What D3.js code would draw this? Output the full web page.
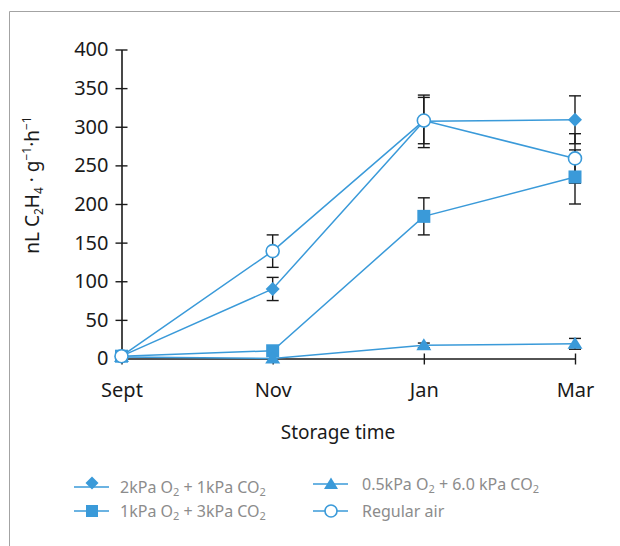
<!DOCTYPE html>
<html>
<head>
<meta charset="utf-8">
<script src="https://cdn.jsdelivr.net/npm/d3@7"></script>
<style>
  html, body { margin: 0; padding: 0; background: #fff; }
  svg { display: block; font-family: "Noto Sans", "Open Sans", sans-serif; }
</style>
</head>
<body>
<svg id="chart" width="620" height="546"></svg>
<script>
// Ethylene production during storage under four atmospheres
const months = ["Sept", "Nov", "Jan", "Mar"];
const yTicks = [0, 50, 100, 150, 200, 250, 300, 350, 400];

const lowO2Values   = [3, 90, 307, 309];   // 2kPa O2 + 1kPa CO2
const lowO2Err      = [0, 15, 34, 31];
const midValues     = [3, 10, 184, 235];   // 1kPa O2 + 3kPa CO2
const midErr        = [0, 0, 24, 35];
const ulo2Values    = [2, 0, 17, 19];      // 0.5kPa O2 + 6.0 kPa CO2
const ulo2Err       = [0, 0, 3, 7];
const airValues     = [3, 139, 308, 259];  // Regular air
const airErr        = [0, 21, 30, 32];

const blue = "#3a9ad9";
const svg = d3.select("#chart");

// outer frame (top and left edges only)
svg.append("path").attr("d", "M9.5,546 V11.5 H620")
  .attr("fill", "none").attr("stroke", "#a3a3a3").attr("stroke-width", 1);

const x = d3.scalePoint().domain(months).range([121.5, 575]);
const y = d3.scaleLinear().domain([0, 400]).range([358.5, 49.5]);

// symbol shapes
const shapes = {
  diamond: (g) => g.append("path").attr("d", "M0,-7 L7,0 L0,7 L-7,0 Z").attr("fill", blue),
  square: (g) => g.append("rect").attr("x", -6.5).attr("y", -6.5).attr("width", 13).attr("height", 13).attr("fill", blue),
  triangle: (g) => g.append("path").attr("d", "M0,-7 L7.5,5 L-7.5,5 Z").attr("fill", blue),
  circle: (g) => g.append("circle").attr("r", 6.5).attr("fill", "#fff").attr("stroke", blue).attr("stroke-width", 1.6)
};

const series = [
  { name: "lowO2", values: lowO2Values, err: lowO2Err, shape: "diamond" },
  { name: "mid", values: midValues, err: midErr, shape: "square" },
  { name: "ulo2", values: ulo2Values, err: ulo2Err, shape: "triangle" },
  { name: "air", values: airValues, err: airErr, shape: "circle" }
];

// axes
const yAxis = svg.append("g").attr("transform", "translate(121.5,0)")
  .call(d3.axisLeft(y).tickValues(yTicks).tickSizeInner(6).tickSizeOuter(0).tickPadding(7));
yAxis.selectAll(".tick line").attr("x1", -6).attr("x2", 6);
const xAxis = svg.append("g").attr("transform", "translate(0,358.5)")
  .call(d3.axisBottom(x).tickSizeInner(6).tickSizeOuter(0).tickPadding(18));
xAxis.selectAll(".tick line").attr("y1", -5).attr("y2", 6);
[yAxis, xAxis].forEach(a => {
  a.select(".domain").attr("stroke", "#1a1a1a").attr("stroke-width", 1.6);
  a.selectAll(".tick line").attr("stroke", "#1a1a1a").attr("stroke-width", 1.4);
  a.selectAll(".tick text").attr("fill", "#1a1a1a").attr("font-size", 20)
    .attr("font-family", "'Noto Sans', sans-serif");
});
xAxis.selectAll(".tick text").attr("dy", "0.71em");

// axis titles
svg.append("text").attr("x", 338).attr("y", 439).attr("text-anchor", "middle")
  .attr("font-size", 19).attr("fill", "#1a1a1a").text("Storage time");

const yt = svg.append("text").attr("transform", "translate(39,185) rotate(-90)")
  .attr("text-anchor", "middle").attr("font-size", 19).attr("fill", "#1a1a1a");
yt.append("tspan").text("nL C");
yt.append("tspan").attr("font-size", 12).attr("dy", 4).text("2");
yt.append("tspan").attr("dy", -4).text("H");
yt.append("tspan").attr("font-size", 12).attr("dy", 4).text("4");
yt.append("tspan").attr("dy", -4).text(" · g");
yt.append("tspan").attr("font-size", 12).attr("dy", -8).text("−1");
yt.append("tspan").attr("dy", 8).text("·h");
yt.append("tspan").attr("font-size", 12).attr("dy", -8).text("−1");

// error bars
const errG = svg.append("g");
series.forEach(s => {
  s.values.forEach((v, i) => {
    const e = s.err[i];
    if (!e) return;
    const cx = x(months[i]);
    errG.append("line").attr("x1", cx).attr("x2", cx).attr("y1", y(v - e)).attr("y2", y(v + e))
      .attr("stroke", "#1a1a1a").attr("stroke-width", 1.4);
    [v - e, v + e].forEach(t => errG.append("line")
      .attr("x1", cx - 6).attr("x2", cx + 6).attr("y1", y(t)).attr("y2", y(t))
      .attr("stroke", "#1a1a1a").attr("stroke-width", 1.4));
  });
});

// connecting lines
const line = d3.line().x((d, i) => x(months[i])).y(d => y(d));
series.forEach(s => {
  svg.append("path").datum(s.values).attr("d", line)
    .attr("fill", "none").attr("stroke", blue).attr("stroke-width", 1.5);
});

// markers
series.forEach(s => {
  s.values.forEach((v, i) => {
    const g = svg.append("g").attr("transform", `translate(${x(months[i])},${y(v)})`);
    shapes[s.shape](g);
  });
});

// legend
const legendItems = [
  { shape: "diamond", lx: 74, ly: 487, parts: [["2kPa O", 0], ["2", 1], [" + 1kPa CO", 0], ["2", 1]], markerDy: -4 },
  { shape: "triangle", lx: 313, ly: 484, parts: [["0.5kPa O", 0], ["2", 1], [" + 6.0 kPa CO", 0], ["2", 1]], markerDy: 0 },
  { shape: "square", lx: 74, ly: 511, parts: [["1kPa O", 0], ["2", 1], [" + 3kPa CO", 0], ["2", 1]], markerDy: 0 },
  { shape: "circle", lx: 313, ly: 511, parts: [["Regular air", 0]], markerDy: 0 }
];
legendItems.forEach(it => {
  svg.append("line").attr("x1", it.lx).attr("x2", it.lx + 35).attr("y1", it.ly).attr("y2", it.ly)
    .attr("stroke", blue).attr("stroke-width", 1.5);
  const g = svg.append("g").attr("transform", `translate(${it.lx + 18},${it.ly + it.markerDy})`);
  if (it.shape === "circle") {
    g.append("circle").attr("r", 6).attr("fill", "#fff").attr("stroke", blue).attr("stroke-width", 1.6);
  } else if (it.shape === "square") {
    g.append("rect").attr("x", -6).attr("y", -6).attr("width", 12).attr("height", 12).attr("fill", blue);
  } else if (it.shape === "diamond") {
    g.append("path").attr("d", "M0,-6.5 L6.5,0 L0,6.5 L-6.5,0 Z").attr("fill", blue);
  } else {
    g.append("path").attr("d", "M0,-6.5 L7,5 L-7,5 Z").attr("fill", blue);
  }
  const t = svg.append("text").attr("x", it.lx + (it.lx > 200 ? 49 : 46)).attr("y", it.ly + 5.5)
    .attr("font-size", 16).attr("fill", "#8c8c8c");
  let shifted = false;
  it.parts.forEach(([txt, sub]) => {
    const sp = t.append("tspan").text(txt);
    if (sub && !shifted) { sp.attr("font-size", 11).attr("dy", 3); shifted = true; }
    else if (!sub && shifted) { sp.attr("dy", -3); shifted = false; }
  });
});
</script>
</body>
</html>
